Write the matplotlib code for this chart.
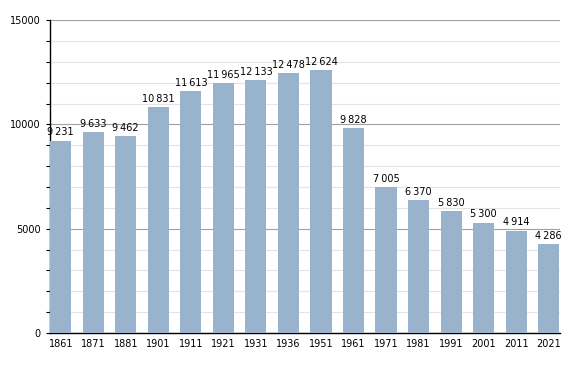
import matplotlib.pyplot as plt
from matplotlib.ticker import MultipleLocator
import numpy as np

years = ['1861', '1871', '1881', '1901', '1911', '1921', '1931', '1936',
         '1951', '1961', '1971', '1981', '1991', '2001', '2011', '2021']
population = [9231, 9633, 9462, 10831, 11613, 11965, 12133, 12478,
              12624, 9828, 7005, 6370, 5830, 5300, 4914, 4286]

def fmt(n):
    # thousands separated by a thin space
    return '{:,}'.format(n).replace(',', '\u2009')

fig = plt.figure(figsize=(5.88, 3.73), dpi=100)
ax = fig.add_axes([0.085, 0.107, 0.867, 0.839])

x = np.arange(len(years))
ax.bar(x, population, width=0.65, color='#99b3cd', zorder=3)

for xi, v in zip(x, population):
    ax.text(xi, v + 150, fmt(v), ha='center', va='bottom', fontsize=7, zorder=4)

ax.set_xlim(-0.33, len(years) - 0.66)
ax.set_ylim(0, 15000)
ax.set_xticks(x)
ax.set_xticklabels(years, fontsize=7)
ax.tick_params(axis='x', length=0, pad=4)

ax.yaxis.set_major_locator(MultipleLocator(5000))
ax.yaxis.set_minor_locator(MultipleLocator(1000))
ax.tick_params(axis='y', which='major', labelsize=7, length=3, width=0.8)
ax.tick_params(axis='y', which='minor', length=3, width=0.8)

ax.grid(axis='y', which='minor', color='#e4e4e4', linewidth=0.8, zorder=0)
ax.grid(axis='y', which='major', color='#a0a0a0', linewidth=0.8, zorder=1)

for s in ['top', 'right']:
    ax.spines[s].set_visible(False)
ax.spines['left'].set_linewidth(1.0)
ax.spines['bottom'].set_linewidth(1.0)

fig.savefig('out.png', dpi=100)
